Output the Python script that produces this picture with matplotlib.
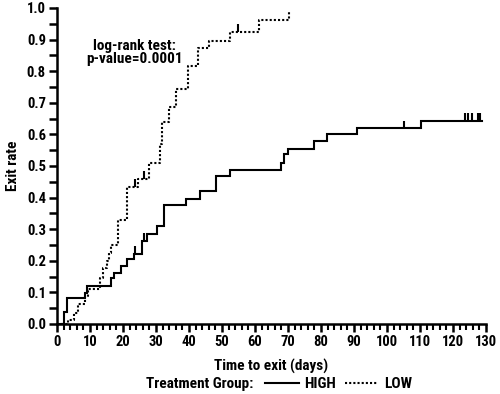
import numpy as np
import matplotlib
matplotlib.use("Agg")
import matplotlib.pyplot as plt
from matplotlib.lines import Line2D
from matplotlib.ticker import MultipleLocator, FormatStrFormatter

plt.rcParams['font.family'] = ['Roboto Condensed', 'DejaVu Sans']
plt.rcParams['font.weight'] = 'bold'

# step curves (time in days, cumulative exit rate)
high_time = [0, 2, 3, 8.5, 9, 16.3, 17.3, 19.3, 21.3, 23.3, 25.7, 27.4, 30.2, 32.4,
             39.1, 43.4, 48.2, 52.5, 67.8, 68.9, 69.9, 78, 81.7, 90.9, 110.4, 128.9]
high_rate = [0, 0.039, 0.083, 0.098, 0.121, 0.145, 0.162, 0.184, 0.206, 0.222, 0.264,
             0.285, 0.31, 0.377, 0.396, 0.42, 0.468, 0.487, 0.508, 0.537, 0.555, 0.58,
             0.6, 0.619, 0.643, 0.643]
high_cens_time = [23.6, 26.5, 105.2, 123.7, 124.6, 125.9, 127.6, 128.3]
high_cens_rate = [0.222, 0.264, 0.619, 0.643, 0.643, 0.643, 0.643, 0.643]

low_time = [0, 3.4, 5.2, 6.3, 8.5, 9.3, 13, 14, 15, 15.8, 16.5, 18.6, 21.1, 24.5, 28,
            31.2, 31.9, 34, 36, 39.8, 42.8, 46.1, 52.5, 61.3, 70.4, 70.6]
low_rate = [0, 0.013, 0.036, 0.062, 0.089, 0.11, 0.146, 0.176, 0.2, 0.224, 0.25, 0.329,
            0.434, 0.459, 0.51, 0.571, 0.64, 0.688, 0.743, 0.816, 0.872, 0.897, 0.925,
            0.962, 0.988, 0.988]
low_cens_time = [23.6, 26.5, 54.7]
low_cens_rate = [0.434, 0.459, 0.925]

fig = plt.figure(figsize=(5, 3.94), dpi=100)
ax = fig.add_axes([0.114, 0.1777, 0.858, 0.802])

ax.step(high_time, high_rate, where='post', color='black', lw=1.5, solid_joinstyle='miter')
ax.step(low_time, low_rate, where='post', color='black', lw=1.5, linestyle=(0, (1, 1)))
ax.vlines(high_cens_time, high_cens_rate, np.array(high_cens_rate) + 0.024, color='black', lw=1.5)
ax.vlines(low_cens_time, low_cens_rate, np.array(low_cens_rate) + 0.024, color='black', lw=1.5)

ax.text(23.5, 0.86, "log-rank test:\np-value=0.0001", ha='center', va='center',
        fontsize=11, fontweight='bold', linespacing=0.95)

ax.set_xlim(0, 130)
ax.set_ylim(0, 1.0)
ax.xaxis.set_major_locator(MultipleLocator(10))
ax.xaxis.set_minor_locator(MultipleLocator(2))
ax.yaxis.set_major_locator(MultipleLocator(0.1))
ax.yaxis.set_minor_locator(MultipleLocator(0.05))
ax.yaxis.set_major_formatter(FormatStrFormatter('%.1f'))
for s in ['top', 'right']:
    ax.spines[s].set_visible(False)
for s in ['left', 'bottom']:
    ax.spines[s].set_linewidth(1.8)
ax.tick_params(axis='both', which='major', length=6, width=1.8, labelsize=10.5, pad=2)
ax.tick_params(axis='x', which='minor', length=4, width=1.5)
ax.tick_params(axis='y', which='minor', length=6, width=1.8)

ax.set_xlabel("Time to exit (days)", fontsize=11, fontweight='bold', labelpad=7)
ax.set_ylabel("Exit rate", fontsize=11, fontweight='bold', labelpad=5)

fig.text(0.506, 0.025, "Treatment Group:", ha='right', va='center', fontsize=11, fontweight='bold')
handles = [Line2D([], [], color='black', lw=1.5),
           Line2D([], [], color='black', lw=1.5, linestyle=(0, (1, 1)))]
fig.legend(handles, ["HIGH", "LOW"], loc='center left', bbox_to_anchor=(0.53, 0.025),
           ncol=2, frameon=False, fontsize=11, handlelength=2.2, handletextpad=0.35,
           columnspacing=0.6, borderpad=0, borderaxespad=0)

fig.savefig("out.png", dpi=100)
